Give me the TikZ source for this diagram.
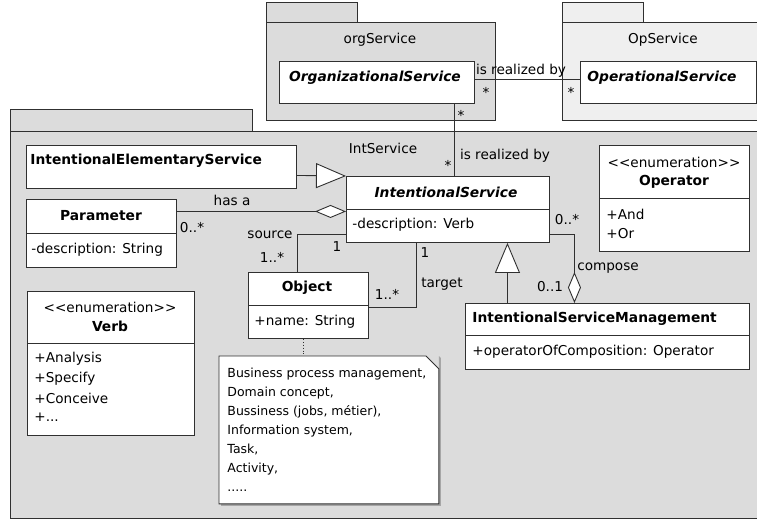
\documentclass[tikz,border=0pt]{standalone}
\usepackage{fontspec}
\setmainfont{DejaVu Sans}
\usetikzlibrary{arrows.meta}
\definecolor{pkg}{HTML}{DCDCDC}
\definecolor{pkglight}{HTML}{EFEFEF}
\definecolor{ln}{HTML}{303030}
\tikzset{
  box/.style={draw=ln, fill=white, inner sep=0pt, anchor=north west},
  pkgbox/.style={draw=ln, fill=pkg, inner sep=0pt, anchor=north west},
  lightpkg/.style={pkgbox, fill=pkglight},
  txt/.style={inner sep=0pt, font=\fontsize{13.6}{16}\selectfont},
  ttl/.style={inner sep=0pt, font=\fontsize{13.8}{16}\selectfont\bfseries},
  ittl/.style={inner sep=0pt, font=\fontsize{13.8}{16}\selectfont\bfseries\itshape},
  conn/.style={draw=ln},
  gen/.style={conn, -{Triangle[fill=white, length=30pt, width=25pt]}},
  agg/.style={conn, -{Diamond[fill=white, length=31pt, width=13pt]}},
  notetxt/.style={inner sep=0pt, align=left, font=\fontsize{12.5}{19}\selectfont},
}
\begin{document}
\begin{tikzpicture}[x=1pt, y=-1pt, line width=0.9pt]
\useasboundingbox (0,0) rectangle (757,522);
% packages
\node[pkgbox, minimum width=242pt, minimum height=22pt] (mainTab) at (10,109) {};
\node[pkgbox, minimum width=760pt, minimum height=387pt] (mainPkg) at (10,131) {};
\node[pkgbox, minimum width=91pt, minimum height=20.5pt] (orgTab) at (266,1.5) {};
\node[pkgbox, minimum width=229pt, minimum height=98pt] (orgPkg) at (266,22) {};
\node[lightpkg, minimum width=81pt, minimum height=20.5pt] (opTab) at (562,1.5) {};
\node[lightpkg, minimum width=210pt, minimum height=98pt] (opPkg) at (562,22) {};
\node[txt] (orgLbl) at (380,40) {orgService};
\node[txt] (opLbl) at (663,40) {OpService};
\node[txt] (intLbl) at (383,148) {IntService};

% class boxes (positions)
\node[box, minimum width=195pt, minimum height=42pt] (orgCls) at (279,61) {};
\node[box, minimum width=176pt, minimum height=42pt] (opCls) at (580,61) {};
\node[box, minimum width=270pt, minimum height=43pt] (elemCls) at (26,145) {};
\node[box, minimum width=203pt, minimum height=66pt] (intCls) at (346,176) {};
\node[box, minimum width=150pt, minimum height=68pt] (paramCls) at (26,199) {};
\node[box, minimum width=120pt, minimum height=66pt] (objCls) at (248,272) {};
\node[box, minimum width=167pt, minimum height=144pt] (verbCls) at (27,291) {};
\node[box, minimum width=150pt, minimum height=106pt] (opEnum) at (599,145) {};
\node[box, minimum width=284pt, minimum height=66pt] (ismCls) at (465,303) {};

% connectors
\draw[conn] ([yshift=3pt]orgCls.east) -- ([yshift=3pt]opCls.west);
\draw[conn] ([xshift=77.5pt]orgCls.south) coordinate (orgDown) -- (orgDown |- intCls.north);
\draw[gen] ([yshift=-8.5pt]elemCls.east) -- (intCls.north west);
\draw[agg] ([yshift=22pt]paramCls.east) coordinate (parEnd) -- (parEnd -| intCls.west);
\draw[conn] ([xshift=-11pt]objCls.north) |- ([yshift=-25pt]intCls.west);
\draw[conn] ([xshift=-31.5pt]intCls.south) |- ([yshift=-2pt]objCls.east);
\draw[gen] ([xshift=-100pt]ismCls.north) coordinate (ismUp) -- (ismUp |- intCls.south);
\draw[agg] ([yshift=-25pt]intCls.east) -| ([xshift=-33pt]ismCls.north);

% note
\node[inner sep=0pt, anchor=north west, minimum width=219pt, minimum height=147pt] (note) at (219,356) {};
\draw[conn, dotted] ([xshift=-5pt]objCls.south) coordinate (objDown) -- (objDown |- note.north);
\fill[black!35] ([shift={(2pt,-2pt)}]note.north east) -- ([shift={(2pt,-2pt)}]note.south east) -- ([shift={(2pt,-2pt)}]note.south west) -- ([xshift=2pt]note.south west) -- (note.south east) -- (note.north east) -- cycle;
\draw[draw=ln, fill=white] (note.north west) -- ([xshift=-13pt]note.north east) -- ([yshift=-13pt]note.north east) -- (note.south east) -- (note.south west) -- cycle;
\node[notetxt, anchor=west] (noteText) at (227,429.5) {Business process management,\\Domain concept,\\Bussiness (jobs, métier),\\Information system,\\Task,\\Activity,\\.....};

% class texts and dividers
\node[ittl] (orgName) at (375,78) {OrganizationalService};
\node[ittl] (opName) at (662,78) {OperationalService};
\node[ttl, anchor=west] (elemName) at (30,161) {IntentionalElementaryService};

\node[ittl] (intName) at (446,192) {IntentionalService};
\draw[conn] (intCls.west |- 0,209) -- (intCls.east |- 0,209);
\node[txt, anchor=west] (intAttr) at (352,225) {-description: Verb};

\node[ttl] (parName) at (101,216) {Parameter};
\draw[conn] (paramCls.west |- 0,233) -- (paramCls.east |- 0,233);
\node[txt, anchor=west] (parAttr) at (31,250) {-description: String};

\node[ttl] (objName) at (307,288) {Object};
\draw[conn] (objCls.west |- 0,305) -- (objCls.east |- 0,305);
\node[txt, anchor=west] (objAttr) at (254,322) {+name: String};

\node[txt] (verbSt) at (110,307) {<{}<enumeration>{}>};
\node[ttl] (verbName) at (110,326) {Verb};
\draw[conn] (verbCls.west |- 0,343) -- (verbCls.east |- 0,343);
\node[txt, anchor=west] (v1) at (34,359) {+Analysis};
\node[txt, anchor=west] (v2) at (34,378.5) {+Specify};
\node[txt, anchor=west] (v3) at (34,398) {+Conceive};
\node[txt, anchor=west] (v4) at (34,417) {+...};

\node[txt] (opSt) at (674,162) {<{}<enumeration>{}>};
\node[ttl] (opEName) at (674,182) {Operator};
\draw[conn] (opEnum.west |- 0,198) -- (opEnum.east |- 0,198);
\node[txt, anchor=west] (o1) at (606,214) {+And};
\node[txt, anchor=west] (o2) at (606,234) {+Or};

\node[ttl, anchor=west] (ismName) at (472,319) {IntentionalServiceManagement};
\draw[conn] (ismCls.west |- 0,335) -- (ismCls.east |- 0,335);
\node[txt, anchor=west] (ismAttr) at (472,352) {+operatorOfComposition: Operator};

% connector labels
\node[txt] (lblReal1) at (521,71) {is realized by};
\node[txt] (m1) at (486,92) {*};
\node[txt] (m2) at (571,92) {*};
\node[txt] (m3) at (461,115) {*};
\node[txt] (m4) at (448,165) {*};
\node[txt] (lblReal2) at (505,156) {is realized by};
\node[txt] (lblHas) at (232,200) {has a};
\node[txt] (m5) at (192,228) {0..*};
\node[txt] (lblSrc) at (270,235) {source};
\node[txt] (m6) at (272,257) {1..*};
\node[txt] (m7) at (337,247) {1};
\node[txt] (m8) at (425,253) {1};
\node[txt] (lblTgt) at (442,284) {target};
\node[txt] (m9) at (387,294) {1..*};
\node[txt] (m10) at (567,220) {0..*};
\node[txt] (lblComp) at (608,268) {compose};
\node[txt] (m11) at (550,287) {0..1};
\end{tikzpicture}
\end{document}
